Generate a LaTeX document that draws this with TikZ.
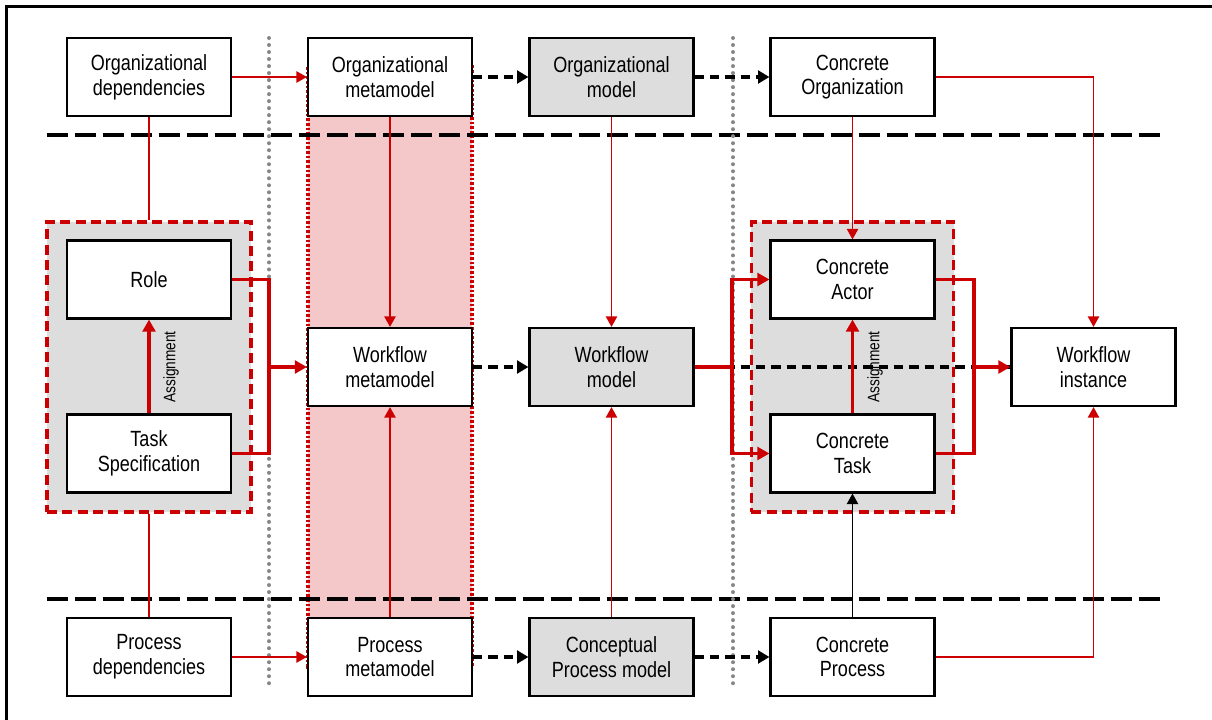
\documentclass[tikz,border=0pt]{standalone}
\usepackage{fontspec}
\setmainfont{Liberation Sans}[FakeStretch=0.82]
\usetikzlibrary{arrows.meta}
\definecolor{accent}{RGB}{204,0,0}
\definecolor{panel}{RGB}{221,221,221}
\definecolor{band}{RGB}{244,200,200}
\definecolor{guide}{RGB}{135,135,135}

\begin{document}
\begin{tikzpicture}[x=0.75pt,y=-0.75pt,
  box/.style={draw=black, line width=1.6pt, fill=white, minimum width=123pt,
    minimum height=58.5pt, inner sep=0pt, align=center,
    font=\fontsize{16.5}{18.5}\selectfont},
  shaded/.style={box, fill=panel},
  groupbox/.style={draw=accent, fill=panel, line width=2.4pt,
    dash pattern=on 7.5pt off 4pt, minimum height=217.5pt, inner sep=0pt},
  thinred/.style={draw=accent, line width=1.4pt},
  thinarrow/.style={thinred, -{Triangle[length=8pt,width=8.5pt]}},
  thickred/.style={draw=accent, line width=2.4pt},
  thickarrow/.style={thickred, -{Triangle[length=9pt,width=9.5pt]}},
  derive/.style={draw=black, line width=2.4pt, dash pattern=on 7pt off 4.5pt},
  derivearrow/.style={derive, -{Triangle[length=8.5pt,width=9.5pt]}},
  layer/.style={draw=black, line width=3.2pt, dash pattern=on 15.75pt off 5.25pt},
  column/.style={draw=guide, line width=3pt, line cap=round,
    dash pattern=on 0.01pt off 5.25pt},
  assign/.style={font=\fontsize{12.5}{14}\selectfont, rotate=90, inner sep=0pt}
]
\useasboundingbox (0,0) rectangle (1212,720);

% outer frame
\draw[line width=1.6pt] (6.5,720) -- (6.5,6.5) -- (1212,6.5);

% metamodel band
\draw[fill=band, draw=accent, line width=2.6pt, dash pattern=on 2pt off 1.5pt]
  (308,67) rectangle (472,667);

% grouped role/task panels
\node[groupbox, minimum width=153pt] (lgrp) at (149,367) {};
\node[groupbox, minimum width=152pt] (rgrp) at (852.5,367) {};

% layer separators
\draw[layer] (47,135) -- (1163,135);
\draw[layer] (47,599) -- (1163,599);

% column separators
\draw[column] (269,38) -- (269,690);
\draw[column] (733,38) -- (733,690);

% top row
\node[box] (odep) at (149,77) {Organizational\\dependencies};
\node[box] (ometa) at (390,77) {Organizational\\metamodel};
\node[shaded] (omodel) at (611.5,77) {Organizational\\model};
\node[box] (corg) at (852.5,77) {Concrete\\Organization};

% middle row
\node[box] (role) at (149,279.5) {Role};
\node[box] (task) at (149,453.5) {Task\\Specification};
\node[box] (wmeta) at (390,367) {Workflow\\metamodel};
\node[shaded] (wmodel) at (611.5,367) {Workflow\\model};
\node[box] (cactor) at (852.5,279.5) {Concrete\\Actor};
\node[box] (ctask) at (852.5,453.5) {Concrete\\Task};
\node[box] (winst) at (1093.5,367) {Workflow\\instance};

% bottom row
\node[box] (pdep) at (149,657) {Process\\dependencies};
\node[box] (pmeta) at (390,657) {Process\\metamodel};
\node[shaded] (cpm) at (611.5,657) {Conceptual\\Process model};
\node[box] (cproc) at (852.5,657) {Concrete\\Process};

% junction points
\coordinate (lj) at (269,367);
\coordinate (rj) at (732,367);
\coordinate (rk) at (974,367);

% derivation arrows
\draw[derivearrow] (ometa) -- (omodel);
\draw[derivearrow] (omodel) -- (corg);
\draw[derivearrow] (wmeta) -- (wmodel);
\draw[derivearrow] (pmeta) -- (cpm);
\draw[derivearrow] (cpm) -- (cproc);
\draw[derive] (wmodel.east) -- (winst.west);

% dependency links
\draw[thinarrow] (odep) -- (ometa);
\draw[thinarrow] (pdep) -- (pmeta);
\draw[thinred] (odep.south) -- (lgrp.north);
\draw[thinred] (lgrp.south) -- (pdep.north);
\draw[thinarrow] (ometa) -- (wmeta);
\draw[thinarrow] (pmeta) -- (wmeta);
\draw[thinarrow] (omodel) -- (wmodel);
\draw[thinarrow] (cpm) -- (wmodel);
\draw[thinarrow] (corg) -- (cactor);
\draw[thinarrow] (corg.east) -| (winst.north);
\draw[thinarrow] (cproc.east) -| (winst.south);
\draw[draw=black, line width=1.4pt, -{Triangle[length=8pt,width=8.5pt]}] (cproc) -- (ctask);

% assignments
\draw[thickarrow] (task) -- (role);
\node[assign] (lasg) at (171,367) {Assignment};
\draw[thickarrow] (ctask) -- (cactor);
\node[assign] (rasg) at (875,367) {Assignment};

% role/task into workflow
\draw[thickred] (role.east) -| (lj) |- (task.east);
\draw[thickarrow] (lj) -- (wmeta.west);
\draw[thickred] (wmodel.east) -- (rj);
\draw[thickarrow] (rj) |- (cactor.west);
\draw[thickarrow] (rj) |- (ctask.west);
\draw[thickred] (cactor.east) -| (rk) |- (ctask.east);
\draw[thickarrow] (rk) -- (winst.west);
\end{tikzpicture}
\end{document}
